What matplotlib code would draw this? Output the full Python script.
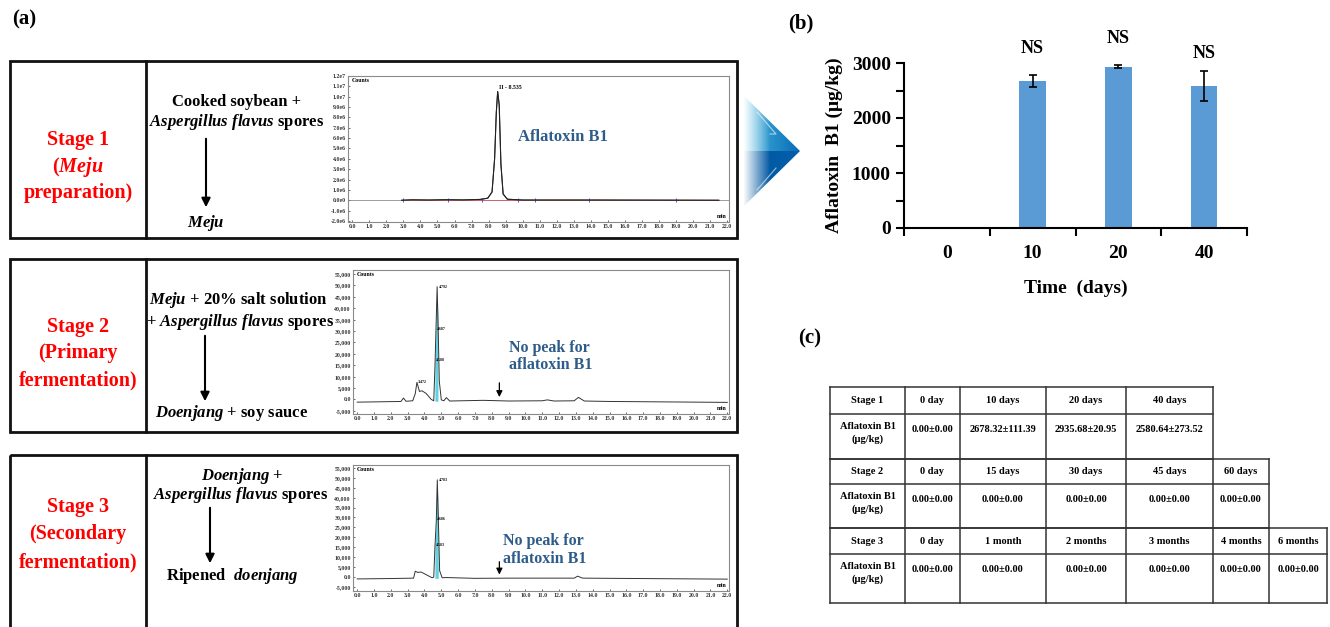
import numpy as np
import matplotlib
matplotlib.use("Agg")
import matplotlib.pyplot as plt
from matplotlib.patches import Polygon, Rectangle

plt.rcParams['font.family'] = 'Liberation Serif'
plt.rcParams['font.weight'] = 'bold'
plt.rcParams['axes.labelweight'] = 'bold'
plt.rcParams['mathtext.fontset'] = 'custom'
plt.rcParams['mathtext.rm'] = 'Liberation Serif:bold'
plt.rcParams['mathtext.it'] = 'Liberation Serif:italic:bold'
plt.rcParams['mathtext.bf'] = 'Liberation Serif:bold'

W, H = 1330, 627

# ---- (b) aflatoxin B1 during meju preparation ----
days = ['0', '10', '20', '40']
afb1_mean = [0.00, 2678.32, 2935.68, 2580.64]
afb1_sd = [0.00, 111.39, 20.95, 273.52]
sig_labels = ['', 'NS', 'NS', 'NS']
sig_y = [0, 3270, 3440, 3180]

# ---- (c) table ----
stage_names = ['Stage 1', 'Stage 2', 'Stage 3']
stage1_times = ['0 day', '10 days', '20 days', '40 days']
stage2_times = ['0 day', '15 days', '30 days', '45 days', '60 days']
stage3_times = ['0 day', '1 month', '2 months', '3 months', '4 months', '6 months']
stage2_values = ['0.00±0.00'] * 5
stage3_values = ['0.00±0.00'] * 6

# ---- (a) chromatograms (retention time in min, counts) ----
chrom1_t = [2.9, 3.5, 4.5, 5.5, 6.5, 7.5, 7.95, 8.2, 8.35, 8.45, 8.53, 8.62, 8.72, 8.85, 9.1, 10.0, 14.0, 21.5]
chrom1_y = [0, 0.04e6, 0.02e6, 0.05e6, 0.03e6, 0.08e6, 0.2e6, 0.8e6, 4.0e6, 8.5e6, 1.05e7, 9.2e6, 3.5e6, 0.6e6, 0.1e6, 0.02e6, 0.02e6, 0]
chrom1_marks = [3.0, 5.6, 7.6, 9.7, 10.7, 13.9, 19.0]

chrom2_t = [0.0, 2.6, 2.75, 2.9, 3.3, 3.45, 3.55, 3.7, 3.85, 4.1, 4.4, 4.55, 4.62, 4.68, 4.75,
            4.8, 4.88, 5.0, 5.15, 5.3, 5.5, 7.5, 9.0, 11.0, 11.3, 11.7, 12.9, 13.15, 13.5, 15.0, 22.0]
chrom2_y = [-1200, -900, 600, -800, -600, 2500, 7500, 3500, 3800, 2600, 0, -600, 14000, 30000, 49500,
            35000, 8000, -200, -600, 800, -700, -400, -700, -600, -200, -700, -600, 900, -700, -900, -1300]

chrom3_t = [0.0, 2.0, 3.35, 3.45, 3.6, 3.8, 4.0, 4.2, 4.45, 4.55, 4.62, 4.7, 4.76, 4.82, 4.9,
            5.05, 5.3, 7.0, 9.0, 12.9, 13.1, 13.4, 22.0]
chrom3_y = [-1100, -900, -700, 2800, 2200, 2400, 1500, 600, -500, -200, 15000, 28000, 49000, 30000, 3000,
            -500, -400, -800, -700, -700, 300, -700, -1200]

chrom_xticks = [float(v) for v in range(23)]
chrom1_yticks = [-2e6, -1e6, 0, 1e6, 2e6, 3e6, 4e6, 5e6, 6e6, 7e6, 8e6, 9e6, 1e7, 1.1e7, 1.2e7]
chrom23_yticks = [-5000, 0, 5000, 10000, 15000, 20000, 25000, 30000, 35000, 40000, 45000, 50000, 55000]


def rect(x0, y0, x1, y1):
    return [x0 / W, 1 - y1 / H, (x1 - x0) / W, (y1 - y0) / H]


def sci_label(v):
    if v == 0:
        return '0.0e0'
    e = int(np.floor(np.log10(abs(v))))
    return f'{v / 10 ** e:.1f}e{e}'


def count_label(v):
    return '0.0' if v == 0 else f'{v:,.0f}'


def chromatogram(box, t, y, ylim, yticks, fmt, fill_range=None):
    ax = fig.add_axes(rect(*box))
    ax.plot(t, y, color='#333333', lw=0.7)
    if fill_range is not None:
        tt = np.array(t)
        yy = np.array(y)
        m = (tt >= fill_range[0]) & (tt <= fill_range[1])
        ax.fill_between(tt[m], -800, yy[m], color='#5fd3e0', lw=0)
    ax.set_xlim(-0.25, 22.1)
    ax.set_ylim(*ylim)
    ax.set_xticks(chrom_xticks)
    ax.set_xticklabels([f'{v:.1f}' for v in chrom_xticks], fontsize=4.2)
    ax.set_yticks(yticks)
    ax.set_yticklabels([fmt(v) for v in yticks], fontsize=4.2)
    ax.tick_params(length=1.5, width=0.5, pad=1.5, direction='in', colors='#333333')
    for s in ax.spines.values():
        s.set_color('#8a8a8a')
        s.set_linewidth(0.8)
    ax.text(0.01, 0.985, 'Counts', transform=ax.transAxes, fontsize=4.2, va='top')
    ax.text(0.995, 0.02, 'min', transform=ax.transAxes, fontsize=4.2, ha='right', va='bottom')
    return ax


fig = plt.figure(figsize=(13.3, 6.27), dpi=100)
bg = fig.add_axes([0, 0, 1, 1])
bg.set_xlim(0, W)
bg.set_ylim(H, 0)
bg.axis('off')

# panel letters
bg.text(12, 19, '(a)', fontsize=15, va='center')
bg.text(788, 23, '(b)', fontsize=15, va='center')
bg.text(798, 338, '(c)', fontsize=15, va='center')

# stage boxes
box_tops = [61, 259, 455]
box_bottoms = [238, 432, 650]
for top, bot in zip(box_tops, box_bottoms):
    bg.add_patch(Rectangle((10, top), 727, bot - top, fill=False, lw=2, ec='#111111', clip_on=False))
    bg.plot([146, 146], [top, bot], color='#111111', lw=2)

red = '#ff0000'
stage_lines = [
    (['Stage 1', '($\\mathit{Meju}$', 'preparation)'], [140, 167, 193]),
    (['Stage 2', '(Primary', 'fermentation)'], [327, 353, 380]),
    (['Stage 3', '(Secondary', 'fermentation)'], [507, 534, 562]),
]
for lines, ys in stage_lines:
    for s, yy in zip(lines, ys):
        bg.text(78, yy, s, color=red, fontsize=14.5, ha='center', va='center')

# flow text in the middle column
flow = [
    ('Cooked soybean +', 237, 102), ('$\\mathit{Aspergillus\\ flavus}$ spores', 237, 122),
    ('$\\mathit{Meju}$', 206, 223),
    ('$\\mathit{Meju}$ + 20% salt solution', 238, 300), ('+ $\\mathit{Aspergillus\\ flavus}$ spores', 240, 322),
    ('$\\mathit{Doenjang}$ + soy sauce', 232, 413),
    ('$\\mathit{Doenjang}$ +', 242, 476), ('$\\mathit{Aspergillus\\ flavus}$ spores', 241, 495),
    ('Ripened  $\\mathit{doenjang}$', 232, 576),
]
for s, xx, yy in flow:
    bg.text(xx, yy, s, fontsize=12, ha='center', va='center')
for xx, y0, y1 in [(206, 136, 210), (205, 333, 404), (210, 505, 566)]:
    bg.annotate('', xy=(xx, y1), xytext=(xx, y0),
                arrowprops=dict(arrowstyle='-|>', lw=1.5, color='black', mutation_scale=13))

# chromatograms
a1 = chromatogram((348, 76, 729, 222), chrom1_t, chrom1_y, (-2.1e6, 1.2e7), chrom1_yticks, sci_label)
a1.axhline(0, color='#777777', lw=0.5)
a1.plot([2.9, 21.5], [0, 0], color='#e05050', lw=0.5)
a1.plot(chrom1_marks, [0] * len(chrom1_marks), ls='none', marker='|', ms=2.5, color='#4040c0', mew=0.6)
a1.plot(chrom1_t, chrom1_y, color='#222222', lw=0.8)
a1.text(8.6, 1.06e7, 'II - 8.535', fontsize=4.2, va='bottom')
a1.text(0.445, 0.58, 'Aflatoxin B1', transform=a1.transAxes, fontsize=12, color='#2e5c8a', va='center')

a2 = chromatogram((353, 270, 729, 414), chrom2_t, chrom2_y, (-6400, 56800), chrom23_yticks, count_label,
                  fill_range=(4.6, 4.86))
a2.text(4.85, 49500, '4.792', fontsize=2.8, va='center')
a2.text(4.72, 31000, '4.687', fontsize=2.8, va='center')
a2.text(4.7, 17500, '4.588', fontsize=2.8, va='center')
a2.text(3.6, 7500, '3.472', fontsize=2.8, va='center')
a2.annotate('', xy=(8.45, -200), xytext=(8.45, 8500),
            arrowprops=dict(arrowstyle='-|>', lw=0.9, color='black', mutation_scale=9))
a2.text(0.415, 0.40, 'No peak for\naflatoxin B1', transform=a2.transAxes, fontsize=11.5,
        color='#2e5c8a', va='center', linespacing=1.15)

a3 = chromatogram((353, 465, 729, 591), chrom3_t, chrom3_y, (-7200, 56500), chrom23_yticks, count_label,
                  fill_range=(4.6, 4.86))
a3.text(4.85, 49000, '4.783', fontsize=2.8, va='center')
a3.text(4.72, 29000, '4.686', fontsize=2.8, va='center')
a3.text(4.7, 16000, '4.583', fontsize=2.8, va='center')
a3.annotate('', xy=(8.45, -300), xytext=(8.45, 9000),
            arrowprops=dict(arrowstyle='-|>', lw=0.9, color='black', mutation_scale=9))
a3.text(0.40, 0.325, 'No peak for\naflatoxin B1', transform=a3.transAxes, fontsize=11.5,
        color='#2e5c8a', va='center', linespacing=1.15)

# gradient chevron between (a) and (b)
gx = np.linspace(0, 1, 60)
gy = np.linspace(0, 1, 120)
GX, GY = np.meshgrid(gx, gy)
top_c = np.array([0.30, 0.74, 0.88])
tip_c = np.array([0.03, 0.42, 0.72])
low_c = np.array([0.00, 0.33, 0.62])
img = np.zeros((120, 60, 4))
for k in range(3):
    base = np.where(GY < 0.5, top_c[k] + (tip_c[k] - top_c[k]) * GX, low_c[k] + (tip_c[k] - low_c[k]) * GX * 0.5)
    img[..., k] = base
img[..., 3] = np.clip((GX - 0.05) / 0.45, 0, 1)
im = bg.imshow(img, extent=(740, 800, 212, 90), origin='upper', aspect='auto', zorder=2)
chev = Polygon([(740, 92), (800, 151), (740, 210)], closed=True, fc='none', ec='none')
bg.add_patch(chev)
im.set_clip_path(chev)
bg.plot([757, 776, 770], [112, 134, 134], color='white', lw=0.8, alpha=0.6, zorder=3)
bg.plot([757, 776], [190, 168], color='white', lw=0.8, alpha=0.6, zorder=3)
bg.set_xlim(0, W)
bg.set_ylim(H, 0)

# ---- (b) bar chart ----
ax = fig.add_axes(rect(904, 63, 1247, 228))
x = np.arange(len(days))
ax.bar(x, afb1_mean, width=0.31, color='#5b9bd5', zorder=2)
has_err = [i for i in x if afb1_sd[i] > 0]
ax.errorbar([x[i] for i in has_err], [afb1_mean[i] for i in has_err], yerr=[afb1_sd[i] for i in has_err],
            fmt='none', ecolor='black', elinewidth=1.2, capsize=3, capthick=1.2, zorder=3)
for i in x:
    if sig_labels[i]:
        ax.text(x[i], sig_y[i], sig_labels[i], ha='center', va='center', fontsize=13)
ax.set_xlim(-0.5, 3.5)
ax.set_ylim(0, 3000)
ax.set_xticks([-0.5, 0.5, 1.5, 2.5, 3.5])
ax.set_xticklabels([])
ax.set_xticks(x, minor=True)
ax.set_xticklabels(days, minor=True, fontsize=14)
ax.tick_params(axis='x', which='major', length=6, width=1.5, direction='out')
ax.tick_params(axis='x', which='minor', length=0, pad=12)
ax.set_yticks([0, 1000, 2000, 3000])
ax.set_yticklabels(['0', '1000', '2000', '3000'], fontsize=14)
ax.set_yticks([500, 1500, 2500], minor=True)
ax.tick_params(axis='y', which='both', length=6, width=1.5, direction='out')
for s in ['top', 'right']:
    ax.spines[s].set_visible(False)
for s in ['left', 'bottom']:
    ax.spines[s].set_linewidth(1.5)
ax.set_ylabel('Aflatoxin  B1 (μg/kg)', fontsize=14, fontweight='bold', labelpad=6)
ax.set_xlabel('Time  (days)', fontsize=14, fontweight='bold', labelpad=13)

# ---- (c) table ----
stage1_values = [f'{m:.2f}±{s:.2f}' for m, s in zip(afb1_mean, afb1_sd)]
stage_times = [stage1_times, stage2_times, stage3_times]
stage_values = [stage1_values, stage2_values, stage3_values]
col_x = [830, 905, 960, 1046, 1126, 1213, 1269, 1327]
row_y = [387, 414, 459, 484, 528, 554, 603]
tc = '#333333'
for i, name in enumerate(stage_names):
    times = stage_times[i]
    vals = stage_values[i]
    ncol = len(times) + 1
    y_top, y_mid, y_bot = row_y[2 * i], row_y[2 * i + 1], row_y[2 * i + 2]
    for yy in (y_top, y_mid, y_bot):
        bg.plot([col_x[0], col_x[ncol]], [yy, yy], color=tc, lw=1.1)
    for j in range(ncol + 1):
        bg.plot([col_x[j], col_x[j]], [y_top, y_bot], color=tc, lw=1.1)
    cells = [name] + times
    for j, s in enumerate(cells):
        bg.text((col_x[j] + col_x[j + 1]) / 2, (y_top + y_mid) / 2, s, fontsize=7.5, ha='center', va='center')
    bg.text((col_x[0] + col_x[1]) / 2, y_mid + 8, 'Aflatoxin B1\n(μg/kg)', fontsize=7.5, ha='center',
            va='top', linespacing=1.45)
    for j, s in enumerate(vals):
        bg.text((col_x[j + 1] + col_x[j + 2]) / 2, y_mid + 15, s, fontsize=7.5, ha='center', va='center')

fig.savefig('out.png', dpi=100)
